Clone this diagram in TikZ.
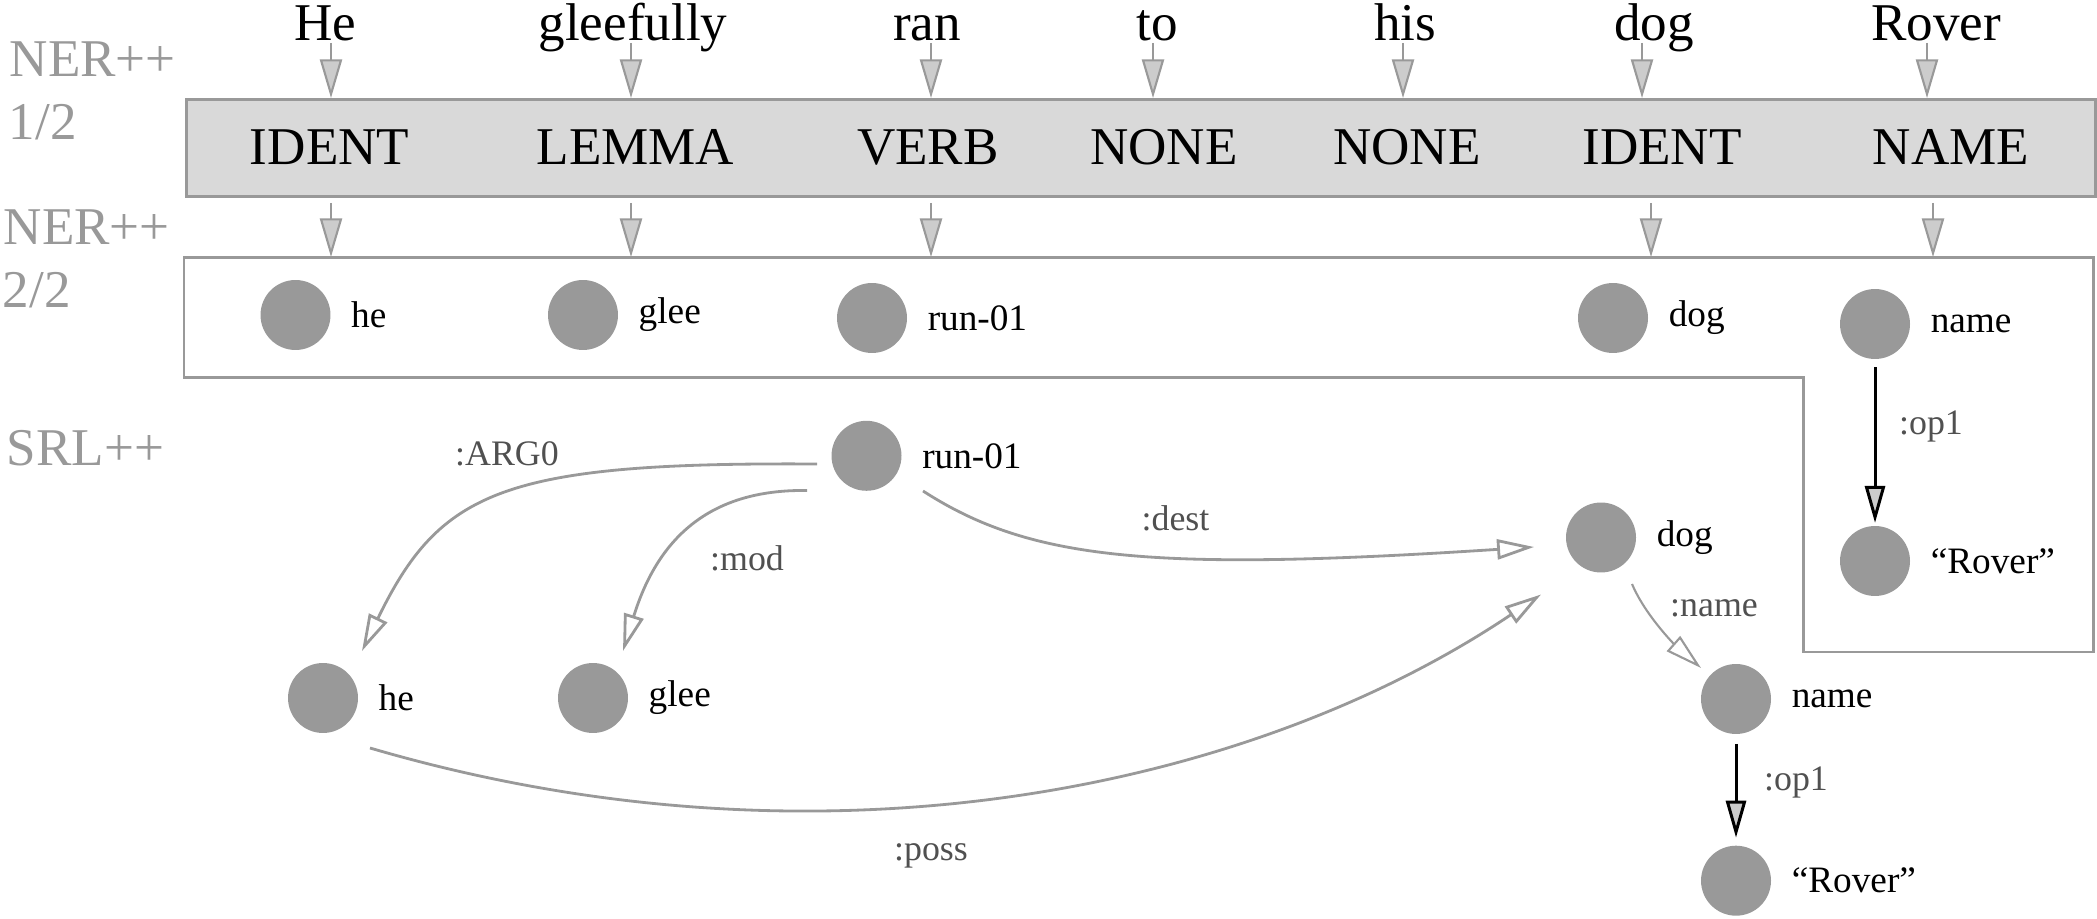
\documentclass[tikz,border=0pt]{standalone}
\usepackage{fontspec}
\setmainfont{Liberation Serif}
\usetikzlibrary{arrows.meta}
\definecolor{lg}{HTML}{999999}
\definecolor{boxfill}{HTML}{D9D9D9}
\definecolor{etext}{HTML}{505050}
\definecolor{tipfill}{HTML}{CCCCCC}
\newcommand{\bigfnt}{\fontsize{15.1pt}{18pt}\selectfont}
\newcommand{\nodefnt}{\fontsize{10.6pt}{12.5pt}\selectfont}
\newcommand{\edgefnt}{\fontsize{10.2pt}{12pt}\selectfont}
\begin{document}
\begin{tikzpicture}[x=0.01cm,y=0.01cm,
 word/.style={font=\bigfnt, inner sep=0, anchor=base},
 sidelab/.style={font=\bigfnt, text=lg, inner sep=0, anchor=base west},
 cnode/.style={circle, fill=lg, minimum size=19.9pt, inner sep=0, outer sep=0},
 nl/.style={font=\nodefnt, inner sep=0, text=black},
 elab/.style={font=\edgefnt, text=etext, inner sep=0, anchor=base},
 tarr/.style={draw=lg, line width=0.6pt, -{Triangle[length=11pt,width=6.3pt,fill=tipfill]}},
 rel/.style={draw=lg, line width=0.8pt, -{Triangle[open,length=10.5pt,width=5.7pt]}},
 blk/.style={draw=black, line width=0.85pt, -{Triangle[length=10.5pt,width=5.7pt,fill=tipfill]}},
 outline/.style={draw=lg, line width=0.85pt},
]
\useasboundingbox (0,0) rectangle (2097,918);

% side labels
\node[sidelab] (ner1a) at (9,841) {NER++};
\node[sidelab] (ner1b) at (8,778) {1/2};
\node[sidelab] (ner2a) at (3,673) {NER++};
\node[sidelab] (ner2b) at (2,610) {2/2};
\node[sidelab] (srl) at (6,452) {SRL++};

% words
\node[word] (w1) at (325,877) {He};
\node[word] (w2) at (633,877) {gleefully};
\node[word] (w3) at (927,877) {ran};
\node[word] (w4) at (1157,877) {to};
\node[word] (w5) at (1405,877) {his};
\node[word] (w6) at (1654,877) {dog};
\node[word] (w7) at (1936,877) {Rover};

% tag box
\node[draw=lg, fill=boxfill, line width=0.85pt, minimum width=542.74pt, minimum height=27.31pt, inner sep=0, outer sep=0] (box) at (1141.25,770) {};
\node[word] (t1) at (329.6,753) {IDENT};
\node[word] (t2) at (635.5,753) {LEMMA};
\node[word] (t3) at (928,753) {VERB};
\node[word] (t4) at (1164,753) {NONE};
\node[word] (t5) at (1407,753) {NONE};
\node[word] (t6) at (1662,753) {IDENT};
\node[word] (t7) at (1951,753) {NAME};

% word -> tag arrows
\draw[tarr] (w1.base) ++(6,-2) -- ++(0,-55);
\draw[tarr] (w2.base) ++(-2,-2) -- ++(0,-55);
\draw[tarr] (w3.base) ++(4,-2) -- ++(0,-55);
\draw[tarr] (w4.base) ++(-4,-2) -- ++(0,-55);
\draw[tarr] (w5.base) ++(-2,-2) -- ++(0,-55);
\draw[tarr] (w6.base) ++(-12,-2) -- ++(0,-55);
\draw[tarr] (w7.base) ++(-9,-2) -- ++(0,-55);

% tag -> concept arrows
\draw[tarr] (t1.base) ++(1.4,-38) -- ++(0,-54);
\draw[tarr] (t2.base) ++(-4.5,-38) -- ++(0,-54);
\draw[tarr] (t3.base) ++(3,-38) -- ++(0,-54);
\draw[tarr] (t6.base) ++(-11,-38) -- ++(0,-54);
\draw[tarr] (t7.base) ++(-18,-38) -- ++(0,-54);

% NER 2/2 frame
\draw[outline] (184,660) -- (2093,660) -- (2093,266) -- (1803,266) -- (1803,540) -- (184,540) -- cycle;

% NER 2/2 concepts
\node[cnode, label={[nl, label distance=5.7pt]0:he}] (n_he) at (295.5,603) {};
\node[cnode, label={[nl, label distance=5.7pt]0:glee}] (n_glee) at (583,603) {};
\node[cnode, label={[nl, label distance=5.7pt]0:run-01}] (n_run) at (872,600) {};
\node[cnode, label={[nl, label distance=5.7pt]0:dog}] (n_dog) at (1613,600) {};
\node[cnode, label={[nl, label distance=5.7pt]0:name}] (r_name) at (1875,594) {};
\node[cnode, label={[nl, label distance=5.7pt]0:“Rover”}] (r_rover) at (1875,357) {};
\draw[blk, shorten <=2.3pt, shorten >=0.9pt] (r_name) -- (r_rover);
\node[elab] (l_op1a) at (1931,483) {:op1};

% SRL++ graph
\node[cnode, label={[nl, label distance=5.7pt]0:run-01}] (s_run) at (866.5,462.2) {};
\node[cnode, label={[nl, label distance=5.7pt]0:he}] (s_he) at (323,220) {};
\node[cnode, label={[nl, label distance=5.7pt]0:glee}] (s_glee) at (593,220) {};
\node[cnode, label={[nl, label distance=5.7pt]0:dog}] (s_dog) at (1601,380.5) {};
\node[cnode, label={[nl, label distance=5.7pt]0:name}] (s_name) at (1736,219) {};
\node[cnode, label={[nl, label distance=5.7pt]0:“Rover”}] (s_rover) at (1736,37.3) {};

\draw[rel] ([shift={(-49.5,-8.2)}]s_run.center) .. controls (502,456) and (440,427) .. ([shift={(39,47)}]s_he.center);
\draw[rel] ([shift={(-59.5,-34.7)}]s_run.center) .. controls (707,429) and (657,377) .. ([shift={(30,47)}]s_glee.center);
\draw[rel] ([shift={(56.5,-35.2)}]s_run.center) .. controls (1030,358) and (1150,346) .. ([shift={(-67,-9.5)}]s_dog.center);
\draw[rel] ([shift={(47,-50)}]s_he.center) .. controls (820,38) and (1250,128) .. ([shift={(-60,-57)}]s_dog.center);
\draw[rel, line width=0.6pt] ([shift={(31,-46.5)}]s_dog.center) .. controls (1645,303) and (1675,273) .. ([shift={(-35,31)}]s_name.center);
\draw[blk, shorten <=2.8pt, shorten >=2.3pt] (s_name) -- (s_rover);

\node[elab] (l_arg0) at (507,452) {:ARG0};
\node[elab] (l_mod) at (747,347.5) {:mod};
\node[elab] (l_dest) at (1175.5,387) {:dest};
\node[elab] (l_poss) at (931,58) {:poss};
\node[elab] (l_name) at (1714,301) {:name};
\node[elab] (l_op1b) at (1796,128) {:op1};
\end{tikzpicture}
\end{document}
